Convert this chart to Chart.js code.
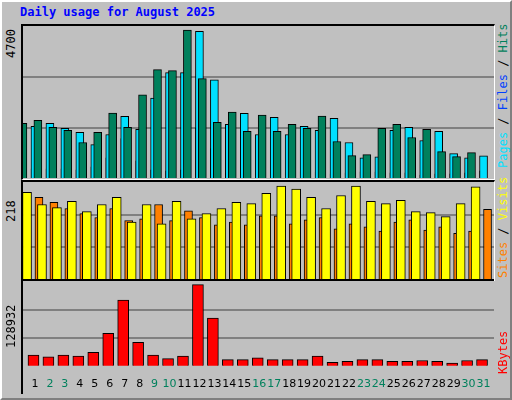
<!DOCTYPE html>
<html>
<head>
<meta charset="utf-8">
<script src="https://cdn.jsdelivr.net/npm/chart.js@4"></script>
<style>
  body { margin: 0; background: #fff; }
  #frame { position: absolute; left: 0; top: 0; width: 508px; height: 396px; background: #c0c0c0;
    border-top: 2px solid #fff; border-left: 2px solid #fff; border-right: 2px solid #808080; border-bottom: 2px solid #808080; }
  .panel { position: absolute; left: 19px; width: 471px; border-top: 2px solid #000; border-left: 2px solid #000;
    border-right: 1px solid #fff; border-bottom: 1px solid #fff; }
  .up { position: absolute; transform-origin: left top; transform: rotate(-90deg); white-space: nowrap;
    font-family: "DejaVu Sans Mono", monospace; font-size: 12px; }
  #title { position: absolute; left: 18px; top: 3px; font: bold 12px "DejaVu Sans Mono", monospace; color: #0000ff; }
  canvas { display: block; }
</style>
</head>
<body>
<div id="frame">
  <div id="title">Daily usage for August 2025</div>
  <div class="panel" style="top:22px;height:153px"><canvas id="c1" width="471" height="153"></canvas></div>
  <div class="panel" style="top:178px;height:98px"><canvas id="c2" width="471" height="98"></canvas></div>
  <div class="panel" style="top:277px;height:113px;border:none;border-top:2px solid #000;border-left:2px solid #000;"><canvas id="c3" width="471" height="113"></canvas></div>
  <div class="up" style="left:2px;top:56px;color:#000">4700</div>
  <div class="up" style="left:2px;top:220px;color:#000">218</div>
  <div class="up" style="left:2px;top:346px;color:#000">128932</div>
  <div class="up" style="left:494px;top:166px;"><span style="color:#00e0ff">Pages</span><span style="color:#000"> / </span><span style="color:#0040ff">Files</span><span style="color:#000"> / </span><span style="color:#00805c">Hits</span></div>
  <div class="up" style="left:494px;top:276px;"><span style="color:#ff8000">Sites</span><span style="color:#000"> / </span><span style="color:#ffff00">Visits</span></div>
  <div class="up" style="left:494px;top:372px;color:#ff0000">KBytes</div>
</div>
<script>
var days = [];
for (var i = 1; i <= 31; i++) days.push(i);
var weekendDays = [2, 3, 9, 10, 16, 17, 23, 24, 30, 31];

var hits = [1712, 1805, 1587, 1494, 1120, 1431, 2023, 1587, 2583, 3361, 3330, 4575, 3081, 1743, 2054, 1463,
  1961, 1463, 1681, 1556, 1930, 1152, 716, 747, 1556, 1681, 1276, 1525, 840, 685, 809];
var pages = [1617, 1711, 1555, 1431, 1057, 1368, 1928, 1524, 2488, 3266, 3266, 4540, 3048, 1679, 2021, 1368,
  1897, 1368, 1617, 1493, 1866, 1120, 653, 684, 1493, 1586, 1182, 1462, 778, 653, 715];
var files = [311, 311, 311, 280, 373, 653, 1244, 560, 280, 249, 280, 1555, 933, 187, 218, 249,
  218, 218, 218, 218, 156, 187, 218, 218, 187, 187, 124, 156, 156, 187, 249];
var visits = [195, 168, 161, 175, 152, 168, 184, 129, 168, 125, 175, 136, 148, 159, 173, 170,
  193, 209, 202, 184, 159, 188, 209, 175, 170, 177, 152, 150, 141, 170, 207];
var sites = [184, 173, 159, 148, 139, 159, 132, 136, 168, 132, 154, 139, 123, 129, 123, 143,
  143, 125, 134, 139, 114, 125, 118, 109, 129, 134, 111, 118, 104, 109, 157];
var kbytes = [17643, 14929, 17643, 16286, 21715, 50216, 100432, 36644, 17643, 12215, 16286, 123503, 73289, 10857, 10857, 13572,
  10857, 10857, 10857, 16286, 6786, 8143, 10857, 10857, 8143, 8143, 9500, 8143, 5429, 9500, 10857];

function pts(vals, shift) {
  return vals.map(function (v, i) { return { x: days[i] + shift, y: v }; });
}

function ds(label, vals, shift, color, width) {
  return { label: label, data: pts(vals, shift), backgroundColor: color, borderColor: "#000",
    borderWidth: 1, borderSkipped: "bottom", barThickness: width };
}

function makeChart(id, datasets, ymax, showX) {
  new Chart(document.getElementById(id), {
    type: "bar",
    data: { datasets: datasets },
    options: {
      responsive: false, animation: false,
      layout: { padding: 0 },
      plugins: { legend: { display: false }, tooltip: { enabled: false } },
      scales: {
        x: {
          type: "linear", min: 0.2, max: 31.7, display: showX, offset: false,
          grid: { display: false, offset: false }, border: { display: false },
          afterBuildTicks: function (s) { s.ticks = days.map(function (d) { return { value: d }; }); },
          ticks: {
            autoSkip: false, maxRotation: 0, padding: 3,
            font: { family: "DejaVu Sans", size: 11 },
            color: function (c) { return weekendDays.indexOf(c.tick.value) >= 0 ? "#00805c" : "#000"; },
            callback: function (v) { return String(v); }
          }
        },
        y: {
          min: 0, max: ymax, display: true,
          afterBuildTicks: function (s) { s.ticks = [0, 1, 2, 3].map(function (k) { return { value: ymax * k / 3 }; }); },
          ticks: { display: false },
          border: { display: false },
          grid: { drawTicks: false, lineWidth: 2,
            color: function (c) { return (c.index === 1 || c.index === 2) ? "#808080" : "rgba(0,0,0,0)"; } }
        }
      }
    }
  });
}

makeChart("c1", [
  ds("Hits", hits, -0.27, "#00805c", 8),
  ds("Pages", pages, 0, "#00e0ff", 8),
  ds("Files", files, -0.33, "#0040ff", 2)
], 4700, false);

makeChart("c2", [
  ds("Visits", visits, -0.23, "#ffff00", 9),
  ds("Sites", sites, 0, "#ff8000", 8)
], 218, false);

makeChart("c3", [
  ds("KBytes", kbytes, -0.1, "#ff0000", 11)
], 128932, true);
</script>
</body>
</html>
